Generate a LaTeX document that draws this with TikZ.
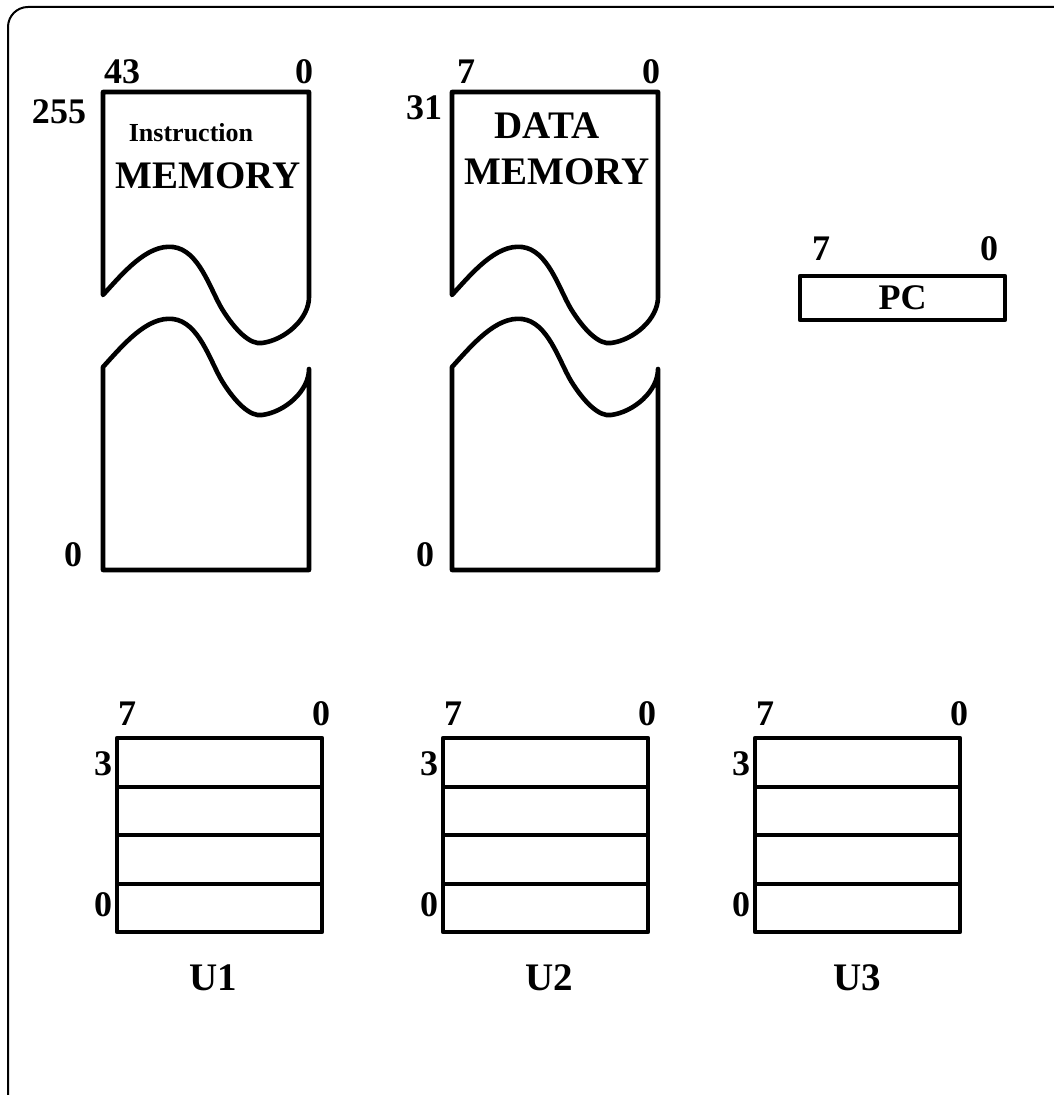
\documentclass[tikz,border=0pt]{standalone}
\usepackage{fontspec}
\setmainfont{Liberation Serif}
% lower edge of a memory half, local origin at its left end
\newcommand{\wavecut}{(0,0) .. controls (20,-22) and (44,-51) .. (70,-48)
  .. controls (96,-45) and (107,-6) .. (119,14)
  .. controls (132,35) and (147,50) .. (159,48)
  .. controls (182,45) and (206,24) .. (206,2)}
\begin{document}
\begin{tikzpicture}[x=0.5pt, y=-0.5pt,
    outline/.style={line width=2.3pt, line join=round},
    bits/.style={font=\fontsize{18}{18}\bfseries\selectfont, inner sep=0pt},
    small/.style={font=\fontsize{13}{13}\bfseries\selectfont, inner sep=0pt},
    title/.style={font=\fontsize{19.5}{20}\bfseries\selectfont, inner sep=0pt}
  ]
    \useasboundingbox (0,0) rectangle (1053,1095);
    \draw [line width=1pt, rounded corners=10pt] (8,7) rectangle (1095,1115);

    % memories
    \foreach \mx/\mn in {103/imem, 452/dmem} {
        \begin{scope}[shift={(\mx,295)}]
            \draw [outline] \wavecut -- (206,-203) -- (0,-203) -- cycle;
        \end{scope}
        \begin{scope}[shift={(\mx,367)}]
            \draw [outline] \wavecut -- (206,203) -- (0,203) -- cycle;
        \end{scope}
    }
    \node [bits] (imem-msb) at (122,72) {43};
    \node [bits] (imem-lsb) at (304,72) {0};
    \node [bits] (imem-top) at (59,112) {255};
    \node [bits] (imem-bot) at (73,555) {0};
    \node [small] (imem-t1) at (191,133) {Instruction};
    \node [title] (imem-t2) at (208,176) {MEMORY};

    \node [bits] (dmem-msb) at (466,72) {7};
    \node [bits] (dmem-lsb) at (651,72) {0};
    \node [bits] (dmem-top) at (424,108) {31};
    \node [bits] (dmem-bot) at (425,555) {0};
    \node [title] (dmem-t1) at (547,126) {DATA};
    \node [title] (dmem-t2) at (557,172) {MEMORY};

    % program counter
    \node [outline, draw, minimum width=102.5pt, minimum height=22pt,
           font=\fontsize{18}{18}\bfseries\selectfont] (pc) at (902.5,298) {PC};
    \node [bits] (pc-msb) at (821,249) {7};
    \node [bits] (pc-lsb) at (989,249) {0};

    % register files
    \foreach \ux/\un/\lx in {117/1/213, 443/2/549, 755/3/857} {
        \draw [outline] (\ux,738) rectangle ++(205,194);
        \foreach \ry in {787,835,884}
            \draw [outline] (\ux,\ry) -- ++(205,0);
        \node [bits] (u\un-msb) at (\ux+10,714) {7};
        \node [bits] (u\un-lsb) at (\ux+204,714) {0};
        \node [bits] (u\un-top) at (\ux-14,764) {3};
        \node [bits] (u\un-bot) at (\ux-14,905) {0};
        \node [title] (u\un) at (\lx,978) {U\un};
    }
\end{tikzpicture}
\end{document}
